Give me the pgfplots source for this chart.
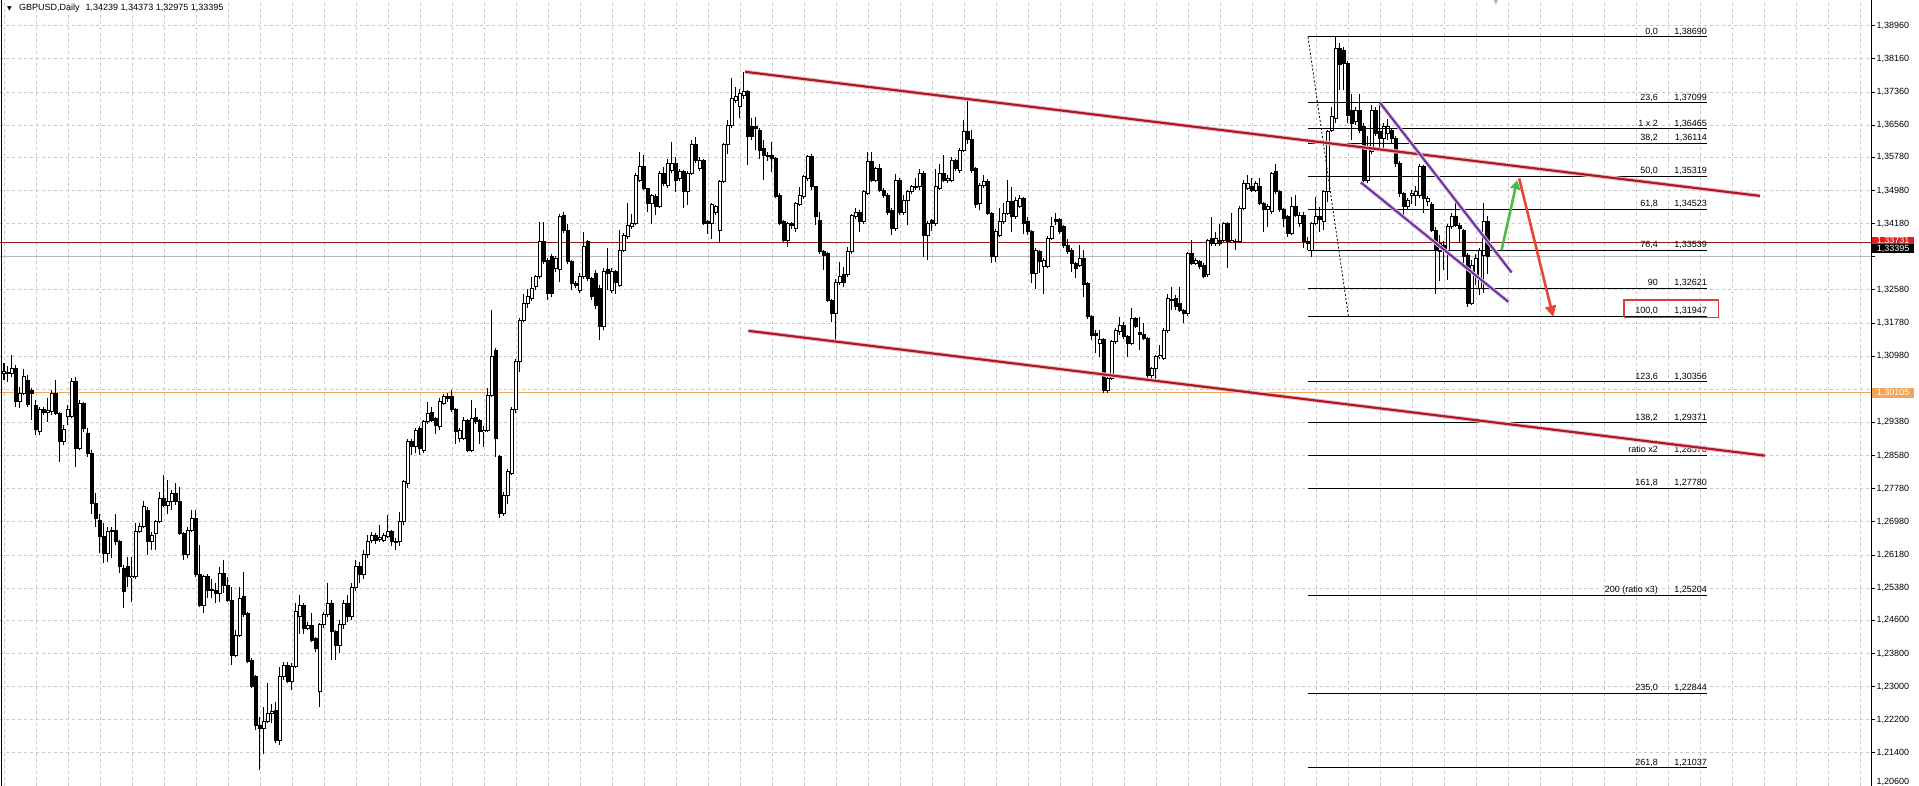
\documentclass[border=0pt]{standalone}
\usepackage{pgfplots}
\pgfplotsset{compat=1.18}
\usepackage{pgfplotstable}
\usepackage{fontspec}
\setmainfont{Liberation Sans}
\newfontfamily\dejavu{DejaVu Sans}
\usetikzlibrary{arrows.meta}

\definecolor{chred}{RGB}{178,24,36}
\definecolor{chpurple}{RGB}{112,48,160}
\definecolor{argreen}{RGB}{76,187,71}
\definecolor{arred}{RGB}{230,70,50}
\definecolor{lvred}{RGB}{150,25,25}
\definecolor{orangeline}{RGB}{240,165,90}
\definecolor{gridgray}{RGB}{200,200,200}
\definecolor{boxred}{RGB}{225,30,30}
\definecolor{fibbox}{RGB}{220,60,60}

\pgfplotstableread{
x o h l c
0 1.3056 1.3081 1.3040 1.3060
1 1.3059 1.3073 1.3036 1.3055
2 1.3056 1.3101 1.3048 1.3068
3 1.3068 1.3077 1.2976 1.2988
4 1.2988 1.3024 1.2972 1.3008
5 1.3008 1.3068 1.3004 1.3048
6 1.3040 1.3052 1.2976 1.2980
7 1.3016 1.3020 1.2944 1.3008
8 1.2980 1.2992 1.2908 1.2920
9 1.2916 1.2976 1.2908 1.2968
10 1.2968 1.2976 1.2956 1.2962
11 1.2962 1.2996 1.2940 1.2966
12 1.2964 1.3016 1.2956 1.3008
13 1.3008 1.3040 1.2956 1.2960
14 1.2960 1.2964 1.2843 1.2892
15 1.2892 1.2932 1.2883 1.2920
16 1.2952 1.2980 1.2932 1.2968
17 1.2952 1.3044 1.2948 1.3036
18 1.3036 1.3047 1.2831 1.2875
19 1.2875 1.2992 1.2871 1.2984
20 1.2984 1.2988 1.2916 1.2924
21 1.2912 1.2924 1.2855 1.2863
22 1.2863 1.2871 1.2718 1.2743
23 1.2743 1.2767 1.2686 1.2707
24 1.2702 1.2718 1.2622 1.2662
25 1.2662 1.2694 1.2598 1.2622
26 1.2622 1.2686 1.2602 1.2674
27 1.2677 1.2686 1.2610 1.2674
28 1.2677 1.2718 1.2642 1.2650
29 1.2650 1.2654 1.2574 1.2590
30 1.2586 1.2594 1.2489 1.2529
31 1.2590 1.2614 1.2541 1.2565
32 1.2564 1.2614 1.2505 1.2567
33 1.2565 1.2694 1.2561 1.2674
34 1.2674 1.2694 1.2670 1.2686
35 1.2686 1.2747 1.2682 1.2734
36 1.2726 1.2734 1.2618 1.2650
37 1.2650 1.2674 1.2630 1.2666
38 1.2670 1.2702 1.2630 1.2698
39 1.2698 1.2771 1.2694 1.2754
40 1.2754 1.2811 1.2734 1.2738
41 1.2738 1.2799 1.2718 1.2746
42 1.2746 1.2775 1.2726 1.2767
43 1.2767 1.2791 1.2738 1.2746
44 1.2746 1.2783 1.2666 1.2670
45 1.2670 1.2674 1.2606 1.2618
46 1.2618 1.2686 1.2610 1.2678
47 1.2678 1.2726 1.2674 1.2706
48 1.2706 1.2726 1.2565 1.2570
49 1.2570 1.2642 1.2493 1.2497
50 1.2497 1.2570 1.2477 1.2565
51 1.2565 1.2573 1.2513 1.2533
52 1.2535 1.2561 1.2513 1.2532
53 1.2533 1.2549 1.2501 1.2525
54 1.2525 1.2590 1.2505 1.2573
55 1.2573 1.2605 1.2525 1.2545
56 1.2545 1.2565 1.2505 1.2509
57 1.2509 1.2541 1.2352 1.2376
58 1.2376 1.2437 1.2372 1.2424
59 1.2424 1.2541 1.2420 1.2513
60 1.2517 1.2577 1.2469 1.2473
61 1.2477 1.2481 1.2356 1.2360
62 1.2364 1.2368 1.2296 1.2300
63 1.2324 1.2328 1.2195 1.2207
64 1.2207 1.2227 1.2099 1.2199
65 1.2199 1.2251 1.2138 1.2215
66 1.2215 1.2308 1.2211 1.2235
67 1.2235 1.2259 1.2211 1.2239
68 1.2243 1.2263 1.2163 1.2171
69 1.2171 1.2348 1.2159 1.2324
70 1.2324 1.2360 1.2316 1.2352
71 1.2352 1.2360 1.2308 1.2312
72 1.2312 1.2356 1.2291 1.2348
73 1.2348 1.2501 1.2344 1.2481
74 1.2469 1.2521 1.2428 1.2497
75 1.2497 1.2501 1.2428 1.2440
76 1.2440 1.2456 1.2436 1.2447
77 1.2448 1.2477 1.2408 1.2412
78 1.2416 1.2420 1.2384 1.2392
79 1.2288 1.2453 1.2251 1.2449
80 1.2449 1.2481 1.2441 1.2473
81 1.2473 1.2549 1.2469 1.2501
82 1.2501 1.2509 1.2364 1.2432
83 1.2432 1.2437 1.2364 1.2400
84 1.2400 1.2460 1.2380 1.2450
85 1.2450 1.2510 1.2440 1.2500
86 1.2500 1.2520 1.2455 1.2470
87 1.2470 1.2550 1.2460 1.2540
88 1.2540 1.2605 1.2530 1.2590
89 1.2590 1.2600 1.2550 1.2570
90 1.2570 1.2630 1.2560 1.2620
91 1.2620 1.2665 1.2610 1.2650
92 1.2654 1.2674 1.2646 1.2666
93 1.2666 1.2670 1.2644 1.2654
94 1.2656 1.2690 1.2650 1.2660
95 1.2654 1.2670 1.2648 1.2666
96 1.2662 1.2714 1.2658 1.2674
97 1.2674 1.2678 1.2640 1.2650
98 1.2650 1.2660 1.2630 1.2648
99 1.2650 1.2722 1.2640 1.2698
100 1.2698 1.2800 1.2690 1.2795
101 1.2790 1.2899 1.2780 1.2891
102 1.2891 1.2899 1.2859 1.2879
103 1.2879 1.2925 1.2863 1.2919
104 1.2923 1.2930 1.2859 1.2875
105 1.2871 1.2943 1.2865 1.2939
106 1.2939 1.2988 1.2935 1.2959
107 1.2963 1.2976 1.2939 1.2943
108 1.2947 1.2950 1.2911 1.2931
109 1.2927 1.2996 1.2920 1.2988
110 1.2984 1.3006 1.2980 1.3000
111 1.3000 1.3008 1.2988 1.2996
112 1.3000 1.3016 1.2964 1.2968
113 1.2968 1.2972 1.2887 1.2915
114 1.2899 1.2925 1.2890 1.2919
115 1.2899 1.2950 1.2895 1.2943
116 1.2943 1.2946 1.2866 1.2871
117 1.2871 1.2992 1.2866 1.2947
118 1.2951 1.2972 1.2935 1.2939
119 1.2943 1.2947 1.2887 1.2915
120 1.2915 1.2930 1.2879 1.2919
121 1.2919 1.3020 1.2915 1.3004
122 1.3004 1.3209 1.3000 1.3096
123 1.3112 1.3118 1.2855 1.2899
124 1.2855 1.2860 1.2706 1.2718
125 1.2718 1.2770 1.2712 1.2762
126 1.2762 1.2825 1.2742 1.2819
127 1.2815 1.2975 1.2810 1.2968
128 1.2968 1.3090 1.2960 1.3084
129 1.3084 1.3190 1.3060 1.3185
130 1.3185 1.3249 1.3180 1.3225
131 1.3225 1.3261 1.3215 1.3241
132 1.3237 1.3290 1.3230 1.3261
133 1.3265 1.3295 1.3258 1.3290
134 1.3290 1.3422 1.3285 1.3374
135 1.3374 1.3422 1.3320 1.3326
136 1.3330 1.3335 1.3233 1.3249
137 1.3338 1.3345 1.3240 1.3249
138 1.3310 1.3340 1.3300 1.3334
139 1.3306 1.3442 1.3277 1.3434
140 1.3438 1.3445 1.3395 1.3402
141 1.3402 1.3418 1.3320 1.3326
142 1.3326 1.3330 1.3257 1.3273
143 1.3273 1.3280 1.3262 1.3269
144 1.3257 1.3298 1.3250 1.3290
145 1.3290 1.3398 1.3285 1.3362
146 1.3374 1.3378 1.3280 1.3285
147 1.3285 1.3290 1.3233 1.3241
148 1.3298 1.3305 1.3213 1.3221
149 1.3261 1.3270 1.3137 1.3169
150 1.3169 1.3310 1.3160 1.3302
151 1.3306 1.3358 1.3257 1.3298
152 1.3257 1.3310 1.3250 1.3302
153 1.3302 1.3306 1.3249 1.3277
154 1.3269 1.3402 1.3265 1.3354
155 1.3354 1.3395 1.3350 1.3390
156 1.3386 1.3467 1.3380 1.3414
157 1.3410 1.3442 1.3405 1.3418
158 1.3418 1.3540 1.3414 1.3535
159 1.3523 1.3591 1.3518 1.3555
160 1.3555 1.3583 1.3498 1.3503
161 1.3503 1.3505 1.3446 1.3467
162 1.3467 1.3490 1.3418 1.3487
163 1.3483 1.3490 1.3440 1.3459
164 1.3459 1.3545 1.3455 1.3539
165 1.3539 1.3555 1.3510 1.3515
166 1.3511 1.3575 1.3505 1.3563
167 1.3547 1.3616 1.3540 1.3563
168 1.3563 1.3579 1.3495 1.3523
169 1.3527 1.3550 1.3520 1.3543
170 1.3543 1.3547 1.3455 1.3495
171 1.3495 1.3545 1.3463 1.3539
172 1.3539 1.3620 1.3535 1.3608
173 1.3608 1.3628 1.3565 1.3571
174 1.3551 1.3580 1.3545 1.3571
175 1.3571 1.3575 1.3414 1.3418
176 1.3422 1.3426 1.3394 1.3418
177 1.3418 1.3467 1.3382 1.3463
178 1.3446 1.3463 1.3440 1.3459
179 1.3402 1.3523 1.3370 1.3519
180 1.3519 1.3612 1.3515 1.3608
181 1.3608 1.3668 1.3587 1.3656
182 1.3656 1.3769 1.3650 1.3720
183 1.3716 1.3748 1.3710 1.3724
184 1.3700 1.3744 1.3672 1.3732
185 1.3728 1.3785 1.3720 1.3736
186 1.3736 1.3740 1.3559 1.3628
187 1.3652 1.3672 1.3620 1.3628
188 1.3652 1.3676 1.3595 1.3648
189 1.3644 1.3648 1.3575 1.3595
190 1.3599 1.3620 1.3523 1.3583
191 1.3583 1.3590 1.3570 1.3579
192 1.3583 1.3616 1.3543 1.3575
193 1.3575 1.3579 1.3479 1.3483
194 1.3487 1.3491 1.3414 1.3418
195 1.3422 1.3426 1.3374 1.3378
196 1.3378 1.3422 1.3362 1.3418
197 1.3418 1.3422 1.3405 1.3414
198 1.3406 1.3471 1.3398 1.3467
199 1.3463 1.3507 1.3460 1.3487
200 1.3483 1.3535 1.3478 1.3531
201 1.3527 1.3583 1.3520 1.3579
202 1.3579 1.3587 1.3500 1.3507
203 1.3507 1.3510 1.3414 1.3434
204 1.3426 1.3446 1.3345 1.3350
205 1.3350 1.3355 1.3306 1.3342
206 1.3346 1.3350 1.3229 1.3233
207 1.3233 1.3237 1.3181 1.3201
208 1.3201 1.3285 1.3137 1.3277
209 1.3277 1.3326 1.3270 1.3290
210 1.3294 1.3314 1.3265 1.3277
211 1.3294 1.3362 1.3288 1.3350
212 1.3350 1.3442 1.3345 1.3438
213 1.3434 1.3455 1.3430 1.3446
214 1.3446 1.3450 1.3398 1.3422
215 1.3422 1.3500 1.3418 1.3495
216 1.3491 1.3591 1.3487 1.3567
217 1.3567 1.3591 1.3518 1.3523
218 1.3523 1.3555 1.3518 1.3551
219 1.3551 1.3563 1.3495 1.3499
220 1.3499 1.3503 1.3480 1.3487
221 1.3487 1.3491 1.3440 1.3446
222 1.3450 1.3455 1.3390 1.3406
223 1.3406 1.3539 1.3400 1.3523
224 1.3523 1.3527 1.3440 1.3446
225 1.3446 1.3487 1.3440 1.3475
226 1.3475 1.3500 1.3414 1.3495
227 1.3495 1.3512 1.3490 1.3507
228 1.3507 1.3527 1.3500 1.3505
229 1.3507 1.3551 1.3500 1.3539
230 1.3539 1.3545 1.3338 1.3390
231 1.3390 1.3425 1.3330 1.3418
232 1.3426 1.3430 1.3400 1.3418
233 1.3418 1.3551 1.3412 1.3507
234 1.3503 1.3563 1.3500 1.3539
235 1.3539 1.3583 1.3518 1.3523
236 1.3523 1.3535 1.3515 1.3527
237 1.3523 1.3579 1.3518 1.3571
238 1.3571 1.3575 1.3545 1.3551
239 1.3547 1.3600 1.3540 1.3595
240 1.3595 1.3668 1.3590 1.3640
241 1.3640 1.3720 1.3610 1.3620
242 1.3620 1.3644 1.3540 1.3547
243 1.3551 1.3555 1.3455 1.3463
244 1.3467 1.3515 1.3450 1.3511
245 1.3511 1.3535 1.3505 1.3519
246 1.3519 1.3525 1.3438 1.3442
247 1.3442 1.3446 1.3322 1.3338
248 1.3338 1.3405 1.3325 1.3398
249 1.3390 1.3455 1.3385 1.3422
250 1.3422 1.3467 1.3418 1.3443
251 1.3443 1.3523 1.3438 1.3471
252 1.3471 1.3507 1.3398 1.3434
253 1.3434 1.3483 1.3430 1.3475
254 1.3459 1.3487 1.3455 1.3479
255 1.3479 1.3483 1.3394 1.3418
256 1.3422 1.3434 1.3390 1.3398
257 1.3398 1.3402 1.3274 1.3298
258 1.3298 1.3360 1.3261 1.3354
259 1.3350 1.3355 1.3298 1.3326
260 1.3314 1.3335 1.3249 1.3330
261 1.3314 1.3388 1.3310 1.3382
262 1.3382 1.3434 1.3378 1.3410
263 1.3427 1.3443 1.3415 1.3422
264 1.3427 1.3432 1.3392 1.3398
265 1.3410 1.3415 1.3360 1.3366
266 1.3366 1.3382 1.3345 1.3350
267 1.3354 1.3358 1.3302 1.3322
268 1.3322 1.3326 1.3286 1.3310
269 1.3318 1.3366 1.3314 1.3334
270 1.3334 1.3354 1.3241 1.3270
271 1.3274 1.3278 1.3188 1.3193
272 1.3193 1.3197 1.3137 1.3149
273 1.3153 1.3161 1.3105 1.3149
274 1.3129 1.3161 1.3096 1.3137
275 1.3137 1.3141 1.3008 1.3016
276 1.3016 1.3050 1.3010 1.3044
277 1.3044 1.3137 1.3040 1.3133
278 1.3133 1.3165 1.3128 1.3161
279 1.3157 1.3193 1.3150 1.3173
280 1.3173 1.3181 1.3140 1.3145
281 1.3145 1.3150 1.3096 1.3129
282 1.3129 1.3214 1.3125 1.3189
283 1.3189 1.3193 1.3165 1.3169
284 1.3155 1.3193 1.3112 1.3151
285 1.3151 1.3177 1.3136 1.3141
286 1.3141 1.3145 1.3040 1.3052
287 1.3052 1.3072 1.3045 1.3068
288 1.3068 1.3100 1.3040 1.3096
289 1.3096 1.3125 1.3090 1.3100
290 1.3092 1.3165 1.3088 1.3161
291 1.3161 1.3249 1.3155 1.3237
292 1.3235 1.3266 1.3209 1.3233
293 1.3237 1.3245 1.3210 1.3217
294 1.3225 1.3266 1.3205 1.3209
295 1.3209 1.3213 1.3177 1.3201
296 1.3201 1.3350 1.3195 1.3346
297 1.3346 1.3378 1.3318 1.3322
298 1.3322 1.3335 1.3318 1.3330
299 1.3326 1.3330 1.3308 1.3314
300 1.3318 1.3322 1.3286 1.3290
301 1.3294 1.3382 1.3290 1.3378
302 1.3382 1.3434 1.3365 1.3370
303 1.3370 1.3398 1.3365 1.3382
304 1.3378 1.3418 1.3365 1.3370
305 1.3378 1.3422 1.3374 1.3418
306 1.3418 1.3422 1.3310 1.3374
307 1.3374 1.3443 1.3370 1.3378
308 1.3376 1.3380 1.3354 1.3374
309 1.3374 1.3460 1.3370 1.3455
310 1.3455 1.3523 1.3450 1.3515
311 1.3503 1.3535 1.3498 1.3515
312 1.3507 1.3527 1.3495 1.3499
313 1.3499 1.3520 1.3494 1.3515
314 1.3507 1.3527 1.3462 1.3467
315 1.3467 1.3470 1.3398 1.3451
316 1.3451 1.3465 1.3410 1.3459
317 1.3447 1.3543 1.3442 1.3539
318 1.3543 1.3563 1.3490 1.3495
319 1.3495 1.3500 1.3447 1.3451
320 1.3451 1.3455 1.3410 1.3431
321 1.3434 1.3438 1.3386 1.3394
322 1.3394 1.3483 1.3390 1.3459
323 1.3459 1.3487 1.3434 1.3438
324 1.3418 1.3445 1.3410 1.3438
325 1.3438 1.3445 1.3358 1.3374
326 1.3374 1.3385 1.3354 1.3370
327 1.3354 1.3422 1.3338 1.3418
328 1.3418 1.3483 1.3414 1.3434
329 1.3434 1.3458 1.3398 1.3428
330 1.3422 1.3500 1.3402 1.3495
331 1.3495 1.3644 1.3470 1.3640
332 1.3644 1.3700 1.3640 1.3676
333 1.3672 1.3869 1.3660 1.3841
334 1.3841 1.3855 1.3740 1.3801
335 1.3835 1.3845 1.3740 1.3805
336 1.3805 1.3810 1.3660 1.3680
337 1.3692 1.3732 1.3620 1.3660
338 1.3664 1.3700 1.3656 1.3692
339 1.3692 1.3732 1.3636 1.3644
340 1.3652 1.3660 1.3515 1.3523
341 1.3523 1.3630 1.3515 1.3603
342 1.3591 1.3704 1.3585 1.3692
343 1.3692 1.3700 1.3630 1.3636
344 1.3640 1.3704 1.3600 1.3624
345 1.3624 1.3660 1.3596 1.3652
346 1.3636 1.3670 1.3620 1.3652
347 1.3644 1.3650 1.3610 1.3624
348 1.3624 1.3630 1.3555 1.3563
349 1.3563 1.3570 1.3483 1.3491
350 1.3491 1.3495 1.3434 1.3459
351 1.3459 1.3480 1.3450 1.3475
352 1.3487 1.3500 1.3465 1.3491
353 1.3487 1.3510 1.3460 1.3495
354 1.3487 1.3563 1.3480 1.3555
355 1.3555 1.3560 1.3443 1.3479
356 1.3471 1.3485 1.3460 1.3479
357 1.3463 1.3470 1.3398 1.3402
358 1.3402 1.3410 1.3249 1.3354
359 1.3350 1.3390 1.3280 1.3370
360 1.3366 1.3375 1.3306 1.3358
361 1.3354 1.3418 1.3282 1.3410
362 1.3410 1.3443 1.3405 1.3434
363 1.3434 1.3475 1.3410 1.3414
364 1.3414 1.3420 1.3370 1.3406
365 1.3402 1.3406 1.3320 1.3338
366 1.3342 1.3346 1.3217 1.3225
367 1.3225 1.3330 1.3221 1.3318
368 1.3290 1.3345 1.3270 1.3334
369 1.3261 1.3360 1.3245 1.3354
370 1.3342 1.3467 1.3250 1.3422
371 1.34239 1.34373 1.32975 1.33395
}\candles

\newcommand{\fib}[3]{%
  \addplot[black, line width=1pt] coordinates {(326,#3) (425.75,#3)};
  \node[anchor=base east, inner sep=0pt, font=\fontsize{9}{10}\selectfont] at (axis cs:413.5,#3) [yshift=2.7pt] {#1};
  \node[anchor=base east, inner sep=0pt, font=\fontsize{9}{10}\selectfont] at (axis cs:425.75,#3) [yshift=2.7pt] {#2};
}

\begin{document}
\begin{tikzpicture}
\path[use as bounding box] (0,0) rectangle (1919pt,786pt);
\begin{axis}[
  at={(0pt,0pt)}, anchor=south west,
  scale only axis, width=1872pt, height=786pt,
  xmin=-1, xmax=467, ymin=1.2060, ymax=1.3958,
  clip=false,
  axis line style={draw=none},
  xtick=\empty,
  ytick={1.2060,1.2140,1.2220,1.2300,1.2380,1.2460,1.2538,1.2618,1.2698,1.2778,1.2858,1.2938,1.3018,1.3098,1.3178,1.3258,1.3338,1.3418,1.3498,1.3578,1.3656,1.3736,1.3816,1.3896},
  yticklabels={{},{1,21400},{1,22200},{1,23000},{1,23800},{1,24600},{1,25380},{1,26180},{1,26980},{1,27780},{1,28580},{1,29380},{},{1,30980},{1,31780},{1,32580},{},{1,34180},{1,34980},{1,35780},{1,36560},{1,37360},{1,38160},{1,38960}},
  ytick pos=right, yticklabel pos=right,
  tick align=outside, major tick length=3pt,
  tick style={black, line width=0.8pt},
  yticklabel style={font=\fontsize{9}{10}\selectfont, anchor=west, inner sep=1.5pt},
  ymajorgrids,
  grid style={gridgray, dash pattern=on 3pt off 3pt, line width=0.8pt},
]
% vertical grid
\pgfplotsinvokeforeach{0,8,...,464}{
  \draw[gridgray, dash pattern=on 3pt off 3pt, line width=0.8pt] (axis cs:#1,1.2060) -- (axis cs:#1,1.3958);
}
% horizontal price lines
\addplot[orangeline, line width=1pt] coordinates {(-1,1.30103) (467,1.30103)};
\addplot[gray!55, line width=1pt] coordinates {(-1,1.33395) (467,1.33395)};
\addplot[lvred, line width=1pt] coordinates {(-1,1.33731) (467,1.33731)};

% candles: wicks, bodies, white inner of bullish bodies
\addplot[black, line width=1pt, quiver={u=0, v={\thisrow{h}-\thisrow{l}}}]
  table[x=x, y=l] {\candles};
\addplot[black, line width=3.4pt, quiver={u=0, v={abs(\thisrow{c}-\thisrow{o})+0.00024}}]
  table[x=x, y expr={min(\thisrow{o},\thisrow{c})-0.00012}] {\candles};
\addplot[white, line width=1.4pt, quiver={u=0, v={max(\thisrow{c}-\thisrow{o}-0.00024,0)}}]
  table[x=x, y expr={\thisrow{o}+0.00012}] {\candles};

% Fibonacci
\addplot[black, line width=0.8pt, dash pattern=on 2pt off 2pt] coordinates {(326,1.38690) (336.1,1.31947)};
\fib{0,0}{1,38690}{1.38690}
\fib{23,6}{1,37099}{1.37099}
\fib{1 x 2}{1,36465}{1.36465}
\fib{38,2}{1,36114}{1.36114}
\fib{50,0}{1,35319}{1.35319}
\fib{61,8}{1,34523}{1.34523}
\fib{76,4}{1,33539}{1.33539}
\fib{90}{1,32621}{1.32621}
\fib{100,0}{1,31947}{1.31947}
\fib{123,6}{1,30356}{1.30356}
\fib{138,2}{1,29371}{1.29371}
\fib{ratio x2}{1,28576}{1.28576}
\fib{161,8}{1,27780}{1.27780}
\fib{200 (ratio x3)}{1,25204}{1.25204}
\fib{235,0}{1,22844}{1.22844}
\fib{261,8}{1,21037}{1.21037}
\addplot[fibbox, line width=1.3pt] coordinates {(405,1.31915) (428.6,1.31915) (428.6,1.32332) (405,1.32332) (405,1.31915)};

% big channel
\addplot[chred!25, line width=4.2pt] coordinates {(185.25,1.37846) (439,1.34849)};
\addplot[chred, line width=2.2pt] coordinates {(185.25,1.37846) (439,1.34849)};
\addplot[chred!25, line width=4.2pt] coordinates {(186.1,1.31591) (440.25,1.28577)};
\addplot[chred, line width=2.2pt] coordinates {(186.1,1.31591) (440.25,1.28577)};

% purple channel
\addplot[chpurple!25, line width=3.8pt] coordinates {(344,1.37097) (376.9,1.33001)};
\addplot[chpurple, line width=2pt] coordinates {(344,1.37097) (376.9,1.33001)};
\addplot[chpurple!25, line width=3.8pt] coordinates {(339.2,1.35175) (376.1,1.32291)};
\addplot[chpurple, line width=2pt] coordinates {(339.2,1.35175) (376.1,1.32291)};

% arrows
\addplot[argreen, line width=2.6pt, -{Triangle[length=9pt,width=10pt]}] coordinates {(374.4,1.33540) (378.3,1.35230)};
\addplot[arred, line width=2.6pt, -{Triangle[length=11pt,width=11pt]}] coordinates {(378.8,1.35271) (387.3,1.31929)};

% frame lines
\draw[black, line width=1pt] (rel axis cs:1,0) -- (rel axis cs:1,1);
\draw[black, line width=1.5pt] (axis cs:-0.6,1.2060) -- (axis cs:-0.6,1.3958);

% lowest price label, kept inside the picture
\node[anchor=south west, inner sep=0pt, font=\fontsize{9}{10}\selectfont] at (axis cs:467,1.2060) [xshift=4.5pt, yshift=0.5pt] {1,20600};

% right-side price boxes
\node[fill=boxred, text=white, anchor=west, inner sep=0pt, minimum height=9pt, minimum width=42pt, font=\fontsize{9}{9}\selectfont] at (axis cs:467,1.33757) {1,33731};
\node[fill=black, text=white, anchor=west, inner sep=0pt, minimum height=9pt, minimum width=42pt, font=\fontsize{9}{9}\selectfont] at (axis cs:467,1.33575) {1,33395};
\node[fill=orangeline, text=white, anchor=west, inner sep=0pt, minimum height=10pt, minimum width=42pt, font=\fontsize{9}{9}\selectfont] at (axis cs:467,1.30090) {1,30105};

% title
\node[anchor=center, inner sep=0pt, font=\dejavu\fontsize{6}{6}\selectfont] at (rel axis cs:0,1) [xshift=9.5pt, yshift=-8.5pt] {▼};
\node[anchor=west, inner sep=0pt, font=\fontsize{9}{10}\selectfont] at (rel axis cs:0,1) [xshift=19pt, yshift=-8.5pt] {GBPUSD,Daily\hspace{6pt}1,34239 1,34373 1,32975 1,33395};
\node[anchor=north, inner sep=0pt, text=gray!60, font=\dejavu\fontsize{6}{6}\selectfont] at (axis cs:373,1.3958) {▼};
\end{axis}
\end{tikzpicture}
\end{document}
